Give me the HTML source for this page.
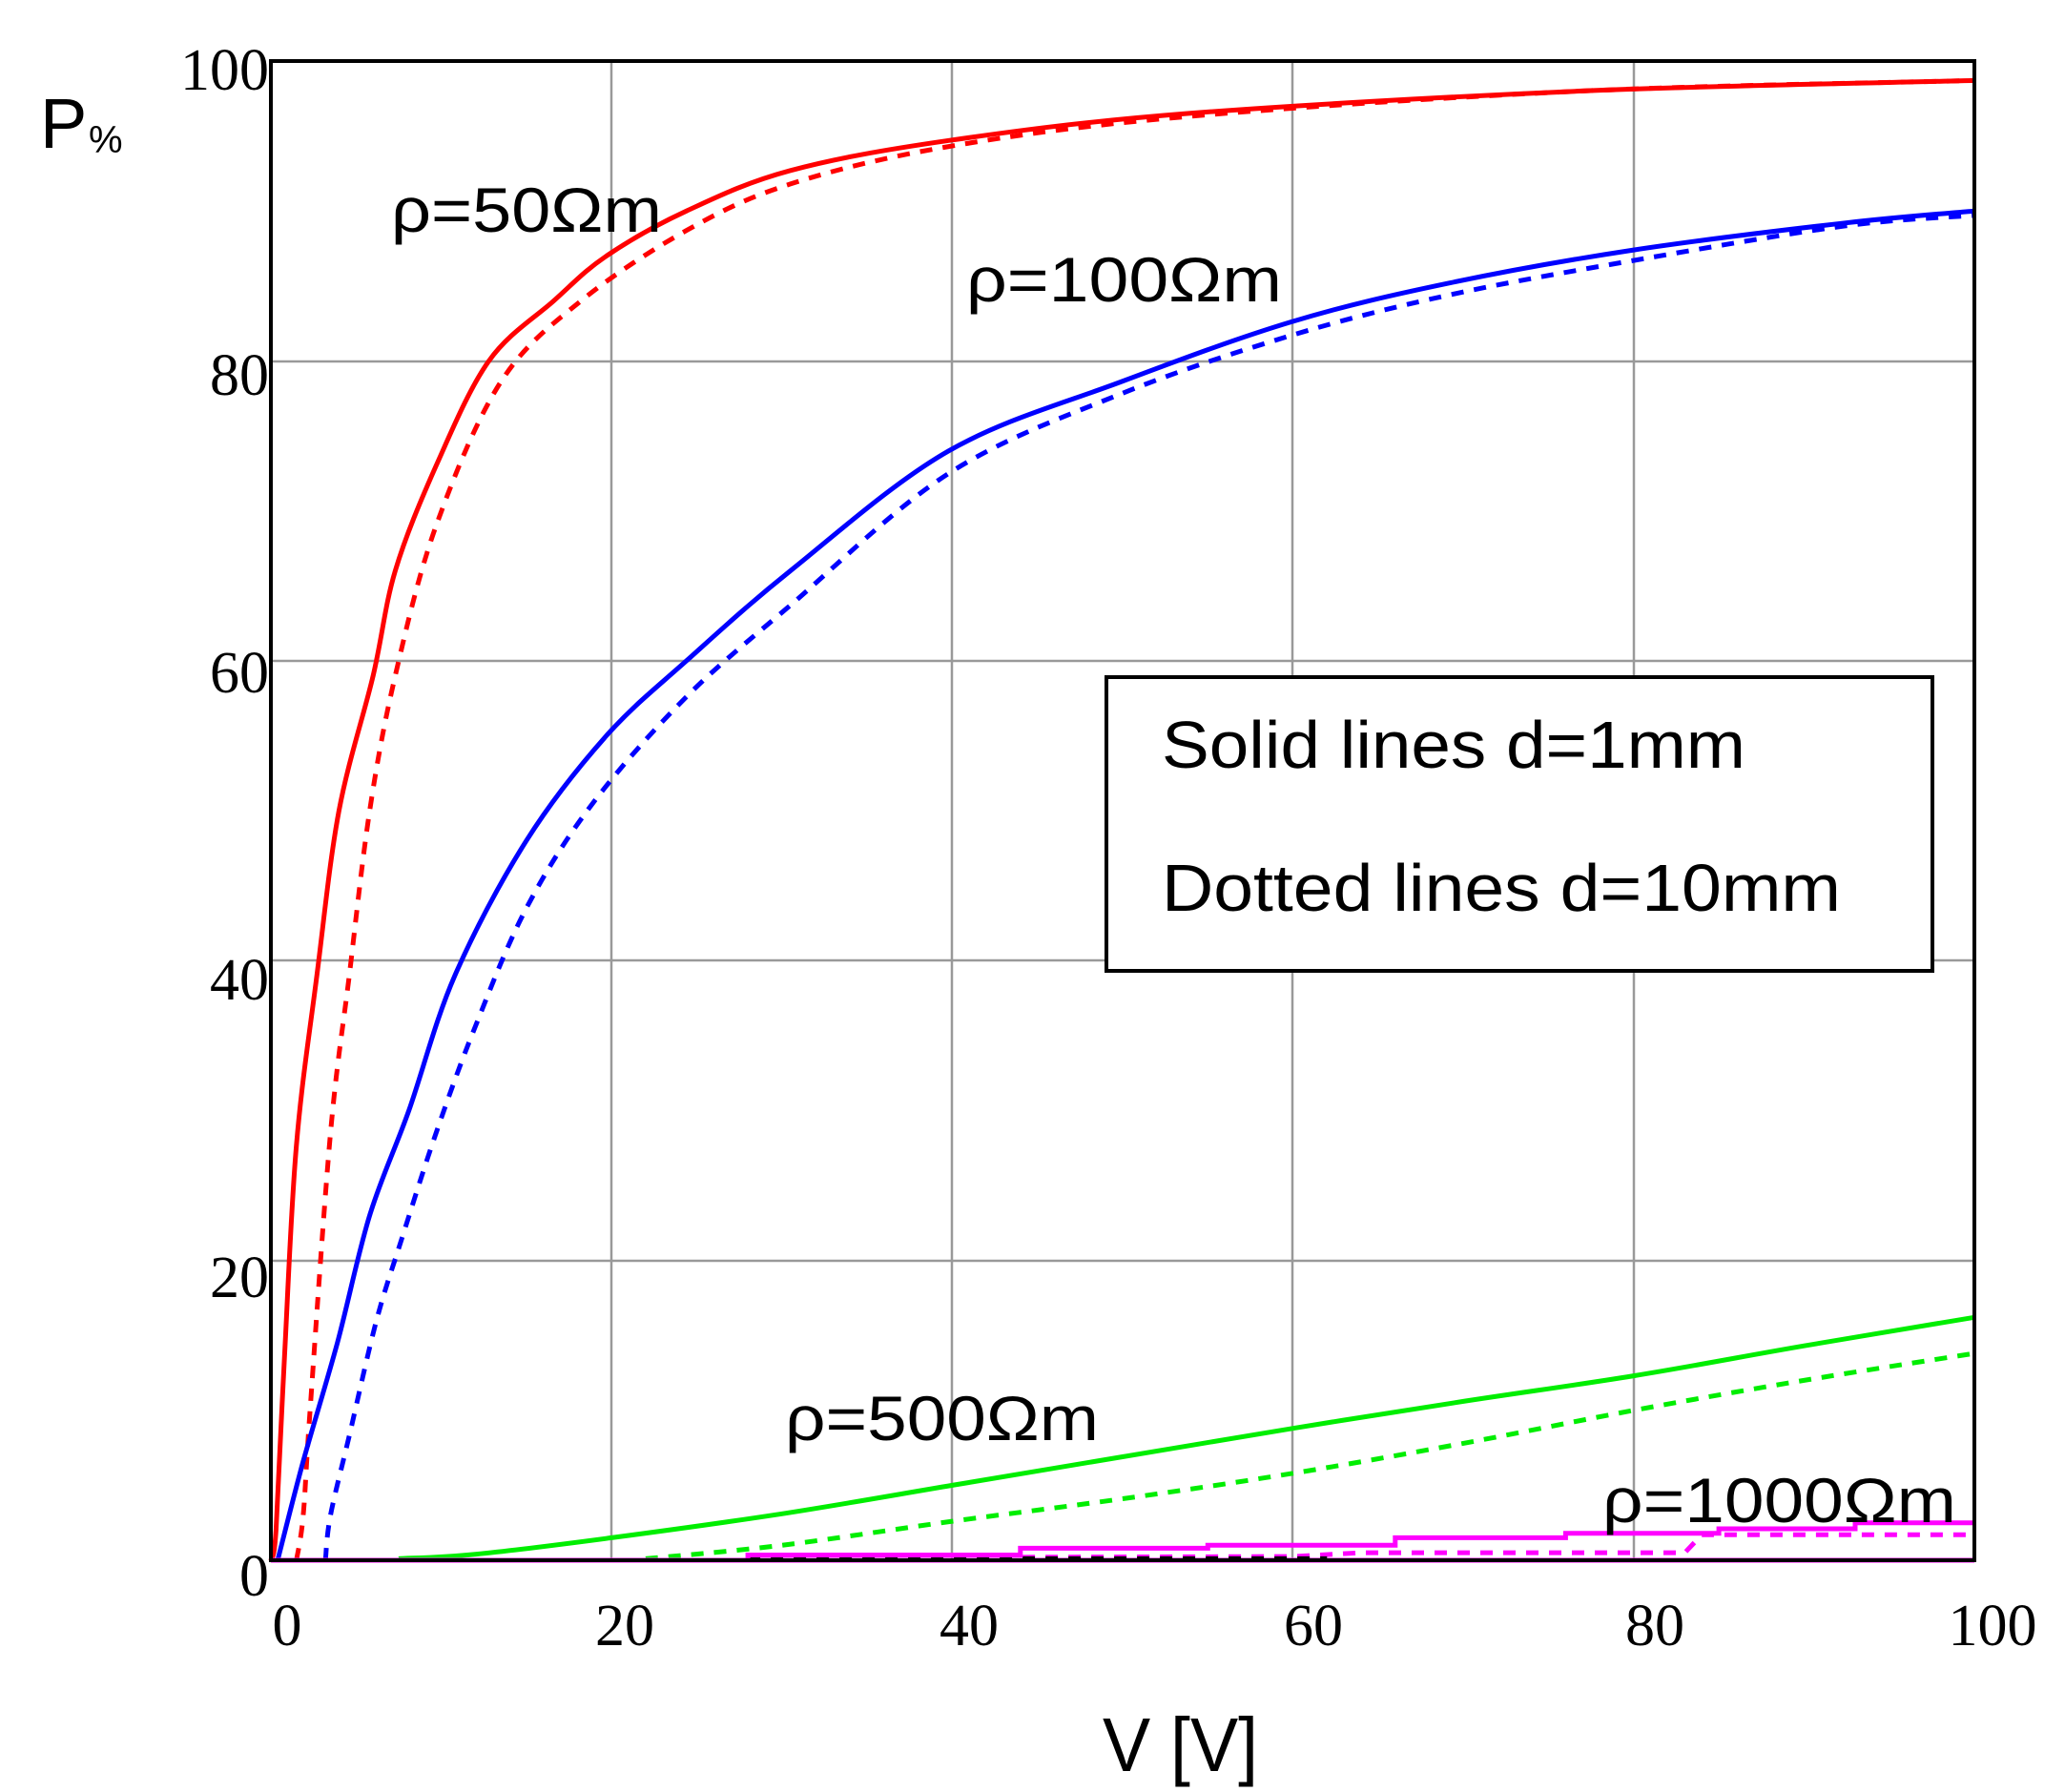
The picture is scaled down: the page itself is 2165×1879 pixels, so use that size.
<!DOCTYPE html>
<html><head><meta charset="utf-8"><style>html,body{margin:0;padding:0;background:#fff}</style></head>
<body>
<svg id="s" width="2165" height="1874" xmlns="http://www.w3.org/2000/svg">
<rect width="2165" height="1874" fill="#fff"/>
<g stroke="#999" stroke-width="2.5">
<line x1="641" y1="64" x2="641" y2="1636"/><line x1="998" y1="64" x2="998" y2="1636"/>
<line x1="1355" y1="64" x2="1355" y2="1636"/><line x1="1713" y1="64" x2="1713" y2="1636"/>
<line x1="284" y1="1322" x2="2070" y2="1322"/><line x1="284" y1="1007" x2="2070" y2="1007"/>
<line x1="284" y1="693" x2="2070" y2="693"/><line x1="284" y1="379" x2="2070" y2="379"/>
</g>
<g id="curves" fill="none" stroke-width="5"></g>
<rect x="284" y="64" width="1786" height="1572" fill="none" stroke="#000" stroke-width="4"/>
<rect x="1160" y="710" width="866" height="308" fill="#fff" stroke="#000" stroke-width="4"/>
<g font-family="Liberation Sans, sans-serif" fill="#000">
<text x="1218" y="805" font-size="70" textLength="612" lengthAdjust="spacingAndGlyphs">Solid lines d=1mm</text>
<text x="1218" y="955" font-size="70" textLength="712" lengthAdjust="spacingAndGlyphs">Dotted lines d=10mm</text>
<text x="410" y="243" font-size="66" textLength="284" lengthAdjust="spacingAndGlyphs">ρ=50Ωm</text>
<text x="1013" y="316" font-size="66" textLength="331" lengthAdjust="spacingAndGlyphs">ρ=100Ωm</text>
<text x="823" y="1510" font-size="66" textLength="329" lengthAdjust="spacingAndGlyphs">ρ=500Ωm</text>
<text x="1680" y="1596" font-size="66" textLength="371" lengthAdjust="spacingAndGlyphs">ρ=1000Ωm</text>
<text x="1156" y="1857" font-size="80" textLength="163" lengthAdjust="spacingAndGlyphs">V [V]</text>
<text x="42" y="155" font-size="74">P</text>
<text x="93" y="160" font-size="40">%</text>
</g>
<g font-family="Liberation Serif, serif" font-size="62" fill="#000">
<g text-anchor="end">
<text x="282" y="94">100</text><text x="282" y="414">80</text><text x="282" y="726">60</text>
<text x="282" y="1048">40</text><text x="282" y="1360">20</text><text x="282" y="1673">0</text>
</g>
<g text-anchor="middle">
<text x="301" y="1725">0</text><text x="655" y="1725">20</text><text x="1016" y="1725">40</text>
<text x="1377" y="1725">60</text><text x="1735" y="1725">80</text><text x="2089" y="1725">100</text>
</g>
</g>
</svg>
<script>
var X=v=>284+v*17.86, Y=p=>1636-p*15.72;
var series=[
["#ff0000",0,1,[[0,0],[0.3,2],[0.8,13.6],[1.5,27.7],[2.7,39],[4,50],[6,59],[7.3,66],[9.7,73],[12.8,80],[16.6,84],[19.7,87],[24.4,90],[30.5,92.7],[39.8,94.7],[53.8,96.5],[77,98],[100,98.7]]],
["#ff0000",1,1,[[1.5,0],[1.9,3],[2.3,10],[3.5,28.5],[4.6,39],[5.8,50],[7.3,59],[9.7,69],[13.5,78.6],[18.2,84],[24.4,88.7],[30.5,91.8],[39.8,94.3],[53.8,96.3],[77,98],[100,98.7]]],
["#0000ff",0,1,[[0.4,0],[1.9,6.6],[3.9,14.5],[5.8,23],[8.1,30],[10.8,39],[15,48],[19.7,55],[24.4,60],[30.5,66],[39.8,74],[49.9,78.6],[59.9,82.6],[69.2,85.2],[80,87.4],[92.4,89.2],[100,90]]],
["#0000ff",1,1,[[3.2,0],[3.5,3],[4.6,8.3],[6.2,16],[7.7,21.5],[9.7,28.5],[12,35.6],[15,43.5],[18.9,50.5],[24.4,57.6],[30.5,63.7],[39.8,72.5],[49.9,77.8],[59.9,81.7],[69.2,84.4],[80,86.7],[92.4,89],[100,89.7]]],
["#00ee00",1,1,[[22,0.1],[30,1],[40,2.6],[50,4.1],[60,5.8],[70,7.8],[80,10],[90,12],[100,13.8]]],
["#00ee00",0,1,[[7.5,0.1],[12,0.4],[20,1.5],[30,3.1],[40,5],[50,6.9],[60,8.8],[70,10.6],[80,12.3],[90,14.3],[100,16.2]]],
["#ff00ff",0,0,[[0,0],[100,0]]],
["#ff00ff",1,0,[[28,0.15],[60,0.25],[64,0.5],[83,0.5],[84,1.7],[100,1.7]]],
["#000000",1,0,[[28,0.1],[62,0.1]]],
["#ff00ff",0,0,[[28,0],[28,0.35],[44,0.35],[44,0.8],[55,0.8],[55,1.0],[66,1.0],[66,1.5],[76,1.5],[76,1.8],[85,1.8],[85,2.1],[93,2.1],[93,2.5],[100,2.5]]]
];
function smooth(pts){var P=pts.map(p=>[X(p[0]),Y(p[1])]);var d='M'+P[0][0].toFixed(1)+' '+P[0][1].toFixed(1);
for(var i=0;i<P.length-1;i++){var p0=P[Math.max(i-1,0)],p1=P[i],p2=P[i+1],p3=P[Math.min(i+2,P.length-1)];
var c1=[p1[0]+(p2[0]-p0[0])/6,p1[1]+(p2[1]-p0[1])/6],c2=[p2[0]-(p3[0]-p1[0])/6,p2[1]-(p3[1]-p1[1])/6];
d+=' C'+c1.map(v=>v.toFixed(1)).join(' ')+' '+c2.map(v=>v.toFixed(1)).join(' ')+' '+p2[0].toFixed(1)+' '+p2[1].toFixed(1);}return d;}
var g=document.getElementById('curves'),h='';
series.forEach(s=>{var d=s[2]?smooth(s[3]):s[3].map((p,i)=>(i?'L':'M')+X(p[0]).toFixed(1)+' '+Y(p[1]).toFixed(1)).join(' ');
h+='<path d="'+d+'" stroke="'+s[0]+'"'+(s[1]?' stroke-dasharray="13 11"':'')+'/>';});
g.innerHTML=h;
</script>
</body></html>
